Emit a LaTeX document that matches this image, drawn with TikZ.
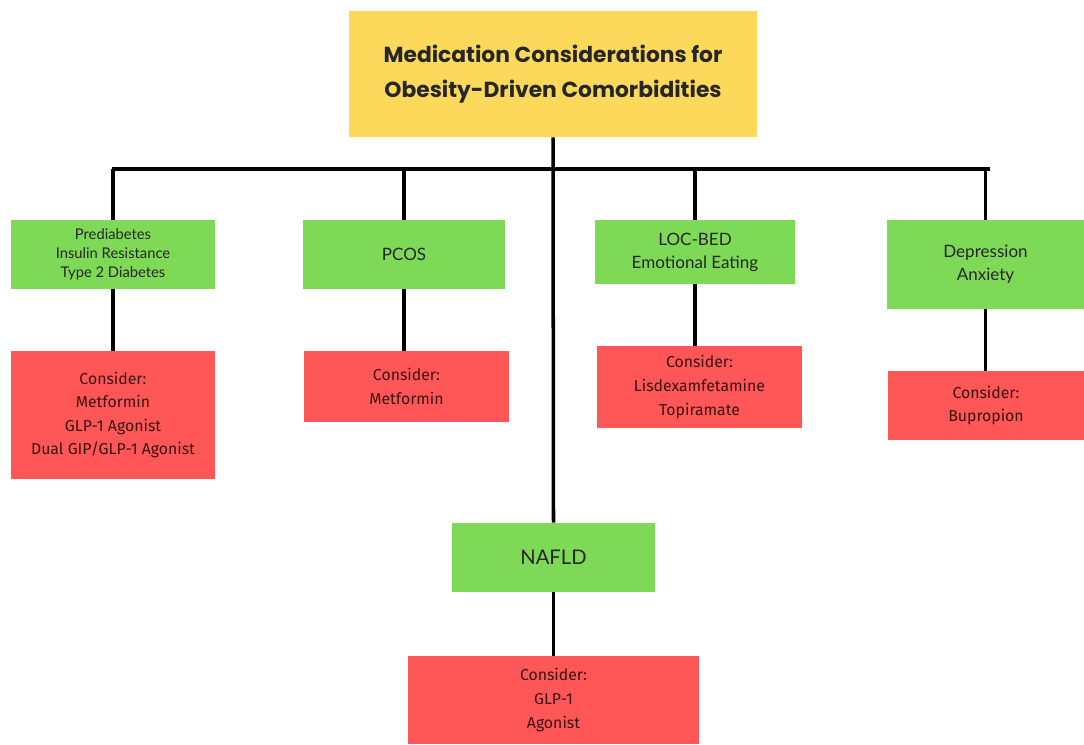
\documentclass[tikz,border=0pt]{standalone}
\usepackage{fontspec}
\setmainfont{Lato}
\newfontfamily\titlefont{Poppins}
\newfontfamily\redfont{Fira Sans}
\definecolor{titleyellow}{HTML}{FCD95A}
\definecolor{boxgreen}{HTML}{7ED957}
\definecolor{boxred}{HTML}{FF5757}
\definecolor{redtext}{HTML}{3A1212}
\begin{document}
\begin{tikzpicture}[x=0.02cm, y=-0.02cm,
    box/.style={inner sep=0pt, align=center, text=black!85},
    titlebox/.style={box, fill=titleyellow, minimum width=8.16cm, minimum height=2.52cm,
        font=\titlefont\bfseries\fontsize{12.4}{19.8}\selectfont},
    greenbox/.style={box, fill=boxgreen, font=\fontsize{9.7}{13}\selectfont},
    redbox/.style={box, fill=boxred, text=redtext, font=\redfont\fontsize{9}{13.4}\selectfont},
    link/.style={line width=2pt}]
    \useasboundingbox (0,0) rectangle (1084,744);

    % title
    \node[titlebox] (title) at (553,74) {Medication Considerations for\\Obesity-Driven Comorbidities};

    % comorbidities
    \node[greenbox, minimum width=4.08cm, minimum height=1.38cm, font=\fontsize{8.4}{10.8}\selectfont] (pre) at (113,254.5) {Prediabetes\\Insulin Resistance\\Type 2 Diabetes};
    \node[greenbox, minimum width=4.04cm, minimum height=1.38cm] (pcos) at (404,254.5) {PCOS};
    \node[greenbox, minimum width=4.00cm, minimum height=1.28cm] (loc) at (695,252) {LOC-BED\\Emotional Eating};
    \node[greenbox, minimum width=3.94cm, minimum height=1.78cm] (dep) at (985.5,264.5) {Depression\\Anxiety};
    \node[greenbox, minimum width=4.06cm, minimum height=1.38cm, font=\fontsize{11.5}{14}\selectfont] (nafld) at (553.5,557.5) {NAFLD};

    % medications
    \node[redbox, minimum width=4.08cm, minimum height=2.56cm] (red1) at (113,415) {Consider:\\Metformin\\GLP-1 Agonist\\Dual GIP/GLP-1 Agonist};
    \node[redbox, minimum width=4.10cm, minimum height=1.42cm] (red2) at (406.5,386.5) {Consider:\\Metformin};
    \node[redbox, minimum width=4.10cm, minimum height=1.64cm] (red3) at (699.5,387) {Consider:\\Lisdexamfetamine\\Topiramate};
    \node[redbox, minimum width=3.92cm, minimum height=1.38cm] (red4) at (986,405.5) {Consider:\\Bupropion};
    \node[redbox, minimum width=5.82cm, minimum height=1.76cm] (red5) at (553.5,700) {Consider:\\GLP-1\\Agonist};

    % tree lines
    \coordinate (barL) at (112,169);
    \coordinate (barR) at (990,169);
    \draw[link] (barL) -- (barR);
    \draw[link] (title.south) -- (nafld.north);
    \foreach \g/\r in {pre/red1, pcos/red2, loc/red3, dep/red4, nafld/red5} {
        \draw[link] (\g.south) -- (\g.south |- \r.north);
    }
    \foreach \g in {pre, pcos, loc, dep} {
        \draw[link] (\g.north |- barL) -- (\g.north);
    }
\end{tikzpicture}
\end{document}
